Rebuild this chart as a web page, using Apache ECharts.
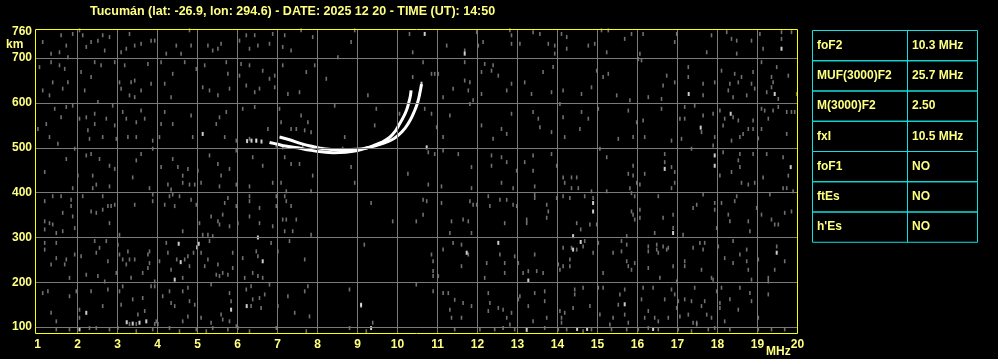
<!DOCTYPE html>
<html><head><meta charset="utf-8">
<script src="https://cdn.jsdelivr.net/npm/echarts@6/dist/echarts.min.js"></script>
<style>html,body{margin:0;padding:0;background:#000;}#c{width:998px;height:359px;}</style>
</head><body><div id="c"></div>
<script>
// ---- data ----
const titleText = 'Tucumán (lat: -26.9, lon: 294.6) - DATE: 2025 12 20 - TIME (UT): 14:50';
const freqTicks = [1,2,3,4,5,6,7,8,9,10,11,12,13,14,15,16,17,18,19,20];
const heightTicks = [100,200,300,400,500,600,700,760];
const gridFreqs = [2,3,4,5,6,7,8,9,10,11,12,13,14,15,16,17,18,19];
const gridHeights = [100,200,300,400,500,600,700];
const tableLabels = ['foF2','MUF(3000)F2','M(3000)F2','fxI','foF1','ftEs',"h'Es"];
const tableValues = ['10.3 MHz','25.7 MHz','2.50','10.5 MHz','NO','NO','NO'];

// O-mode trace [MHz, km]
const traceO = [[6.8,512],[7.0,508],[7.2,504],[7.5,500],[7.8,495],[8.1,491],[8.4,489],[8.7,490],[9.0,494],[9.2,499],[9.4,505],[9.6,512],[9.8,523],[9.95,538],[10.05,553],[10.15,569],[10.23,585],[10.28,600],[10.32,615],[10.34,628]];
// X-mode trace [MHz, km]
const traceX = [[7.05,524],[7.3,518],[7.57,510],[7.82,504],[8.15,498],[8.57,496],[9.0,497],[9.3,501],[9.6,509],[9.86,518],[10.03,529],[10.19,544],[10.32,562],[10.42,581],[10.5,600],[10.55,618],[10.6,642]];

// bright isolated echoes [MHz, km]
const echoWhite = [[6.24,515],[6.35,516],[6.47,516],[6.6,514],[10.68,754],[11.68,710],[19.60,721],[10.60,643],[10.56,620],[17.28,620],[19.43,620],[17.58,545],[18.33,576],[10.73,501],[16.68,453],[17.93,483],[17.93,460],[19.83,457],[5.13,531],[6.51,300],[4.53,286],[4.58,245],[4.43,206],[4.99,278],[5.03,286],[6.63,247],[2.22,132],[3.72,113],[5.84,139],[6.23,147],[9.09,150],[2.05,95],[9.34,98],[3.23,111],[3.38,108],[3.55,110],[14.89,377],[14.89,358],[14.39,303],[16.89,310],[11.73,266],[12.52,288],[13.27,204],[14.39,273],[14.58,290],[19.48,266],[15.68,151],[13.23,94],[14.49,96],[14.74,96],[16.39,96]];

// faint background echoes (noise) [MHz, km]
const echoGray = [
[1.13,736],[1.34,710],[1.55,713],[1.59,751],[1.72,728],[1.76,702],[1.88,754],[2.05,762],[2.13,751],[2.22,725],[2.34,736],[2.51,739],[2.63,751],[2.68,717],[2.80,747],[3.09,713],[3.22,721],[3.30,754],[3.43,728],[3.59,732],[3.84,739],[3.93,739],[4.22,710],[4.47,728],[4.59,710],[4.80,762],[4.84,728],[5.26,728],[5.38,717],[5.51,721],[5.59,732],[6.05,739],[6.22,751],[6.43,751],[6.30,721],[6.51,728],[6.80,732],[6.88,754],[7.18,751],[7.13,725],[7.34,717],[7.59,762],[7.88,747],[8.51,702],[8.84,736],[8.93,762],[10.30,754],[10.38,713],
[1.05,680],[1.34,691],[1.38,646],[1.55,684],[1.68,676],[1.76,646],[1.63,632],[1.13,628],[1.30,617],[2.09,669],[2.18,628],[2.34,658],[2.43,691],[2.59,684],[2.51,602],[2.93,691],[3.05,646],[3.09,632],[3.18,684],[3.34,646],[3.43,650],[3.30,617],[3.43,613],[3.59,628],[3.76,687],[3.84,643],[4.09,691],[4.18,643],[4.34,613],[4.38,665],[4.68,691],[4.97,676],[5.13,635],[5.18,684],[5.30,628],[5.51,617],[5.72,691],[5.76,665],[5.80,632],[6.05,661],[6.09,687],[6.22,639],[6.30,684],[6.43,624],[6.55,632],[6.63,672],[6.80,654],[6.93,661],[6.93,635],[7.13,684],[7.26,620],[7.55,624],[7.72,669],[7.93,684],[8.22,654],[9.26,617],[10.38,658],
[1.01,542],[1.22,553],[1.30,524],[1.43,587],[1.51,509],[1.59,568],[1.72,591],[1.88,594],[2.05,565],[2.22,568],[2.26,539],[2.30,520],[2.43,576],[2.43,553],[2.63,524],[2.72,565],[2.88,594],[2.93,550],[2.97,520],[3.13,580],[3.22,565],[3.26,524],[3.47,557],[3.47,524],[3.59,583],[3.68,565],[3.88,516],[4.05,524],[4.09,553],[4.18,580],[4.38,553],[4.84,572],[4.88,524],[5.47,553],[5.55,568],[5.68,524],[5.72,580],[5.97,516],[6.13,587],[6.43,591],[6.76,542],[7.05,587],[7.09,557],[7.34,542],[7.47,542],[7.59,572],[7.68,539],[7.76,557],[7.84,535],[8.43,594],[8.68,524],[9.43,550],[9.47,587],[10.05,576],
[6.30,520],[6.47,516],[6.97,505],[7.13,501],[7.63,505],[7.88,501],[8.13,498],[8.63,498],
[1.18,446],[1.72,475],[1.93,498],[2.01,438],[2.22,483],[2.34,486],[2.38,438],[2.55,475],[2.80,460],[2.93,453],[3.38,434],[3.47,472],[3.59,486],[3.88,498],[4.09,457],[4.38,475],[4.51,457],[4.63,438],[4.76,453],[5.01,449],[5.30,483],[5.51,464],[5.59,438],[5.80,453],[5.97,494],[6.38,479],[6.63,460],[7.18,479],[7.34,464],[7.55,464],[7.88,438],[8.84,457],[10.26,442],
[11.23,728],[11.68,717],[11.98,758],[12.14,736],[12.02,728],[12.81,762],[12.85,751],[12.85,732],[13.06,732],[13.39,758],[13.56,754],[13.77,732],[13.93,728],[13.93,710],[14.10,754],[14.23,747],[14.23,721],[14.77,728],[14.93,732],[15.10,762],[15.27,762],[15.23,713],[15.68,743],[15.85,754],[16.06,710],[16.14,754],[16.93,736],[16.98,754],[17.73,713],[17.85,751],[18.23,758],[18.35,743],[18.48,739],[18.48,710],[18.85,739],[19.06,754],[19.14,721],[19.60,758],[19.60,743],[19.85,758],
[10.64,691],[10.85,665],[10.93,665],[11.02,665],[11.14,613],[11.39,632],[11.68,650],[11.68,691],[11.77,628],[11.81,646],[11.89,606],[12.10,620],[12.10,669],[12.18,687],[12.35,672],[12.39,684],[12.52,661],[12.73,628],[12.85,643],[13.18,646],[13.35,620],[13.64,669],[13.85,624],[13.89,680],[14.14,628],[14.60,620],[14.85,635],[14.98,672],[15.14,658],[15.27,665],[15.48,617],[15.81,606],[16.02,698],[16.10,695],[16.27,613],[16.60,609],[16.64,639],[16.73,661],[16.93,646],[17.27,680],[17.27,658],[17.64,643],[17.64,617],[17.93,646],[18.10,672],[18.27,628],[18.31,643],[18.39,613],[18.43,665],[18.52,646],[18.60,658],[18.73,617],[18.85,643],[18.89,669],[18.93,632],[19.10,691],[19.23,624],[19.35,658],[19.35,635],[19.39,646],[19.52,609],[19.48,680],[19.77,661],[19.98,620],
[10.68,587],[10.85,576],[10.98,546],[11.14,524],[11.31,572],[11.81,598],[12.10,550],[12.39,520],[12.60,542],[12.73,531],[12.85,576],[13.39,580],[13.52,565],[13.56,546],[13.85,535],[14.06,598],[14.14,568],[14.18,524],[14.60,580],[14.56,542],[14.77,565],[15.02,587],[15.52,520],[15.77,583],[15.89,524],[15.98,557],[16.18,524],[16.14,561],[16.60,587],[16.85,516],[17.06,565],[17.10,520],[17.18,591],[17.18,565],[17.43,594],[17.60,535],[17.64,572],[17.89,576],[17.93,524],[18.06,583],[18.14,550],[18.18,565],[18.35,516],[18.39,568],[18.52,561],[18.56,524],[18.64,531],[18.77,542],[18.89,561],[18.89,542],[19.02,521],[19.10,587],[19.10,542],[19.18,583],[19.27,565],[19.39,583],[19.52,591],[19.73,580],[19.85,580],[19.93,580],[19.73,531],
[10.77,490],[10.93,486],[11.14,494],[11.52,486],[11.85,457],[12.35,483],[12.35,460],[12.60,479],[12.73,468],[12.98,449],[13.18,468],[13.39,483],[13.39,449],[13.85,486],[13.98,460],[14.14,434],[14.35,434],[14.48,434],[15.06,498],[15.23,479],[15.77,442],[15.89,460],[15.89,438],[16.18,442],[16.68,486],[16.68,468],[16.85,457],[16.93,446],[17.35,498],[17.89,505],[18.06,438],[18.14,490],[18.35,446],[18.52,472],[18.56,457],[18.56,486],[18.89,486],[19.14,434],[19.23,486],[19.64,479],[19.77,438],
[1.88,410],[2.38,410],[2.47,418],[2.80,414],[3.80,410],[4.26,418],[4.34,407],[4.63,422],[4.80,418],[4.93,418],[5.09,422],[5.55,414],[5.97,418],[6.30,414],[6.88,422],[7.09,422],[7.22,403],[7.84,403],[8.93,422],
[1.18,381],[1.38,392],[1.59,392],[1.63,355],[1.84,384],[1.84,370],[1.88,347],[1.18,336],[1.30,332],[1.38,329],[1.18,318],[1.47,310],[1.63,314],[1.93,321],[2.13,392],[2.34,358],[2.47,355],[2.63,392],[2.63,362],[2.76,370],[2.84,370],[2.93,373],[2.80,332],[3.05,306],[3.43,373],[3.88,396],[3.88,381],[4.18,373],[4.30,392],[4.38,396],[4.55,392],[4.43,370],[4.63,314],[4.84,384],[4.97,373],[5.05,332],[5.13,306],[5.26,306],[5.38,303],[5.34,347],[5.51,336],[5.55,329],[5.63,351],[5.76,388],[5.68,377],[5.80,325],[5.97,370],[6.01,332],[6.30,392],[6.30,381],[6.30,347],[6.55,366],[6.55,332],[6.88,325],[6.97,392],[6.97,370],[7.18,392],[7.22,381],[7.34,370],[7.13,340],[7.22,340],[7.47,340],[7.18,314],[7.38,314],[7.84,306],[9.34,377],[9.88,336],[10.47,336],
[1.18,288],[1.18,273],[1.47,288],[1.47,254],[1.34,240],[1.72,251],[1.68,240],[1.80,210],[1.93,262],[2.09,258],[2.22,217],[2.43,292],[2.47,266],[2.55,277],[2.51,214],[2.72,292],[2.76,247],[2.68,202],[2.97,221],[3.05,262],[3.01,284],[3.13,251],[3.22,240],[3.30,251],[3.26,269],[3.43,251],[3.34,210],[3.63,221],[3.76,232],[3.76,262],[3.80,269],[3.80,243],[3.93,202],[4.05,247],[4.22,288],[4.26,266],[4.34,228],[4.48,251],[4.63,210],[4.68,251],[4.80,236],[4.76,258],[4.90,266],[5.09,266],[5.18,236],[5.26,251],[5.30,292],[5.47,217],[5.51,240],[5.55,214],[5.63,221],[5.76,217],[5.88,232],[5.88,266],[6.13,254],[6.18,210],[6.38,221],[6.47,269],[6.51,258],[6.51,214],[6.63,210],[6.84,288],[7.01,269],[7.30,292],[7.68,251],[9.17,284],[10.47,195],
[1.13,176],[1.26,180],[1.34,132],[1.47,113],[1.80,169],[1.97,180],[2.05,139],[2.05,121],[2.34,180],[2.63,147],[2.76,184],[3.05,180],[3.13,191],[3.09,150],[3.38,162],[3.51,128],[3.63,165],[3.68,136],[3.84,191],[3.93,191],[3.97,113],[4.13,169],[4.30,180],[4.34,154],[4.43,147],[4.63,180],[4.63,113],[4.76,188],[4.80,158],[4.76,124],[4.93,150],[5.09,121],[5.34,195],[5.34,110],[5.59,128],[5.63,117],[5.80,176],[5.80,113],[5.84,158],[5.97,102],[6.22,184],[6.34,191],[6.38,162],[6.34,147],[6.55,165],[6.59,143],[6.68,173],[6.80,195],[7.01,147],[7.26,169],[7.43,132],[7.80,124],[7.76,191],[7.68,180],[8.80,184],[9.09,147],[9.38,110],
[1.47,95],[1.80,95],[2.30,98],[2.47,98],[2.80,95],[3.01,98],[3.47,91],[3.88,95],[4.30,98],[4.55,91],[4.97,95],[5.22,91],[5.38,98],[5.76,95],[6.01,98],[6.30,91],[6.97,98],[7.72,91],[8.80,98],[9.22,91],
[3.30,107],[3.47,107],[3.93,107],[4.01,107],
[10.77,418],[11.10,414],[11.85,410],[12.60,422],[12.89,410],[13.43,414],[14.18,422],[14.35,410],[14.52,410],[14.85,403],[15.23,403],[15.81,410],[15.85,399],[15.98,422],[16.06,418],[16.85,410],[16.93,422],[18.60,422],[18.77,418],[18.93,422],[19.64,410],[19.73,410],[19.89,403],
[10.64,384],[10.64,351],[10.73,381],[11.10,377],[11.35,336],[11.31,310],[11.64,340],[11.77,336],[11.81,381],[11.89,373],[11.98,373],[11.85,310],[12.27,392],[12.31,370],[12.56,384],[12.73,384],[12.68,332],[12.89,373],[12.98,370],[13.23,340],[13.23,332],[13.43,396],[13.43,388],[13.73,373],[13.77,358],[13.73,344],[13.98,388],[14.14,392],[14.31,388],[14.48,332],[14.68,392],[14.81,329],[14.89,388],[14.98,329],[14.58,318],[15.85,358],[15.89,351],[15.93,340],[15.93,392],[16.06,362],[16.06,344],[16.43,310],[16.52,392],[16.64,344],[16.89,351],[16.89,321],[17.14,306],[17.39,366],[17.48,373],[17.64,396],[17.93,377],[17.93,362],[17.98,321],[18.10,377],[18.27,351],[18.31,336],[18.43,381],[18.48,392],[18.77,336],[18.81,314],[18.98,366],[19.10,351],[19.31,396],[19.35,340],[19.43,329],[19.52,329],[19.68,355],[19.85,358],
[10.85,262],[10.89,247],[10.89,225],[10.89,214],[11.02,214],[11.14,273],[11.39,288],[11.60,284],[11.77,262],[11.60,236],[12.18,210],[12.23,243],[12.56,262],[12.68,221],[12.68,243],[12.93,258],[13.02,243],[13.14,221],[13.27,225],[13.43,262],[13.48,225],[13.64,221],[14.02,240],[14.06,228],[14.14,236],[14.14,277],[14.31,236],[14.31,251],[14.35,277],[14.48,273],[14.64,280],[14.68,292],[14.89,266],[15.02,288],[15.14,221],[15.39,266],[15.60,269],[15.60,292],[15.73,303],[15.73,284],[15.73,247],[15.77,236],[15.93,243],[15.85,228],[16.27,280],[16.27,269],[16.27,232],[16.48,284],[16.48,273],[16.52,266],[16.56,210],[16.64,280],[16.73,273],[16.77,277],[16.89,236],[16.98,202],[17.18,247],[17.18,236],[17.39,277],[17.56,288],[17.64,273],[17.68,288],[17.60,228],[17.85,210],[17.89,206],[18.02,280],[18.18,254],[18.39,292],[18.39,243],[18.56,262],[18.73,273],[18.73,247],[18.77,228],[18.85,206],[19.02,251],[19.27,210],[19.27,202],[19.48,280],[19.68,247],[19.43,228],
[10.89,180],[11.14,176],[11.27,176],[11.43,161],[11.64,154],[11.31,139],[11.35,121],[11.60,121],[11.85,147],[12.27,176],[12.31,154],[12.27,136],[12.52,143],[12.64,139],[12.73,121],[12.85,132],[12.81,106],[13.02,162],[13.06,169],[13.27,147],[13.39,113],[13.43,176],[13.68,158],[13.68,180],[13.73,121],[14.06,136],[14.10,121],[14.10,110],[14.18,132],[14.39,143],[14.43,184],[14.43,173],[14.64,188],[14.81,147],[15.02,188],[15.06,128],[15.14,188],[15.31,106],[15.39,121],[15.52,150],[15.56,173],[15.68,128],[15.68,184],[15.77,110],[16.14,188],[16.10,162],[16.18,121],[16.27,136],[16.39,188],[16.43,121],[16.52,113],[16.68,162],[16.77,121],[16.85,184],[16.93,173],[16.98,143],[17.02,158],[17.06,124],[17.18,162],[17.27,128],[17.35,158],[17.43,188],[17.48,110],[17.60,147],[17.68,158],[17.73,128],[17.85,121],[17.98,180],[18.06,154],[18.06,143],[18.10,188],[18.18,113],[18.31,162],[18.52,139],[18.56,188],[18.81,176],[18.85,158],[19.02,121],[19.27,173],
[11.43,95],[12.06,95],[12.43,95],[12.64,98],[12.93,95],[13.68,98],[14.02,95],[14.23,95],[14.64,91],[14.85,95],[15.35,95],[15.73,95],[16.02,95],[16.27,98],[16.52,95],[17.02,95],[17.35,91],[17.39,110],[17.48,106],[17.77,95],[17.93,98],[18.31,95],[19.02,95],[19.35,95],[19.68,95]
];

// ---- chart ----
const yellow = '#ffff80';
const font = 'Liberation Sans';
const chart = echarts.init(document.getElementById('c'), null, {renderer:'canvas'});
const g = [];
const tx0 = 812.5, tx1 = 907.5, tx2 = 977.5, ty0 = 30.5, rowH = 30.25;
tableLabels.forEach((lab, i) => {
  const y = ty0 + i * rowH;
  g.push({type:'rect', shape:{x:tx0, y:y, width:tx2 - tx0, height:rowH}, style:{fill:'none', stroke:'#10e0e0', lineWidth:1}, silent:true});
  g.push({type:'text', x:tx0 + 4.5, y:y + rowH/2, style:{text:lab, fill:yellow, font:'bold 12px ' + font, textVerticalAlign:'middle'}, silent:true});
  g.push({type:'text', x:tx1 + 4.5, y:y + rowH/2, style:{text:tableValues[i], fill:yellow, font:'bold 12px ' + font, textVerticalAlign:'middle'}, silent:true});
});
g.push({type:'line', shape:{x1:tx1, y1:ty0, x2:tx1, y2:ty0 + 7*rowH}, style:{stroke:'#10e0e0', lineWidth:1}, silent:true});
g.push({type:'text', x:6, y:45, style:{text:'km', fill:yellow, font:'bold 12px ' + font, textVerticalAlign:'middle'}, silent:true});
g.push({type:'text', x:766, y:352, style:{text:'MHz', fill:yellow, font:'bold 12px ' + font, textVerticalAlign:'middle'}, silent:true});
// plot frame
g.push({type:'rect', z:100, shape:{x:35.5, y:29.5, width:762, height:304}, style:{fill:'none', stroke:'#ffff00', lineWidth:1}, silent:true});

const gridMarks = gridFreqs.map(f => ({xAxis:f})).concat(gridHeights.map(h => ({yAxis:h})));

chart.setOption({
  backgroundColor:'#000',
  animation:false,
  title:{text:titleText, left:85, top:0, textStyle:{color:yellow, fontFamily:font, fontWeight:'bold', fontSize:12.5}},
  grid:{left:36, right:200, top:29, bottom:26, show:false},
  xAxis:{type:'value', min:0.9625, max:20.0125, axisLine:{show:false}, axisTick:{show:false}, splitLine:{show:false},
    axisLabel:{customValues:freqTicks, color:yellow, fontFamily:font, fontWeight:'bold', fontSize:12, margin:6}},
  yAxis:{type:'value', min:87, max:765, axisLine:{show:false}, axisTick:{show:false}, splitLine:{show:false},
    axisLabel:{customValues:heightTicks, color:yellow, fontFamily:font, fontWeight:'bold', fontSize:12, margin:4}},
  graphic:g,
  series:[
    {type:'line', data:[], silent:true, z:1,
      markLine:{silent:true, symbol:['none','none'], label:{show:false}, animation:false,
        lineStyle:{color:'#7a7a7a', width:1, type:'solid'}, emphasis:{disabled:true}, data:gridMarks}},
    {type:'scatter', data:echoGray, symbol:'rect', symbolSize:[1.6,4], itemStyle:{color:'#8c8c8c'}, silent:true, z:2},
    {type:'scatter', data:echoWhite, symbol:'rect', symbolSize:[2,4], itemStyle:{color:'#ffffff'}, silent:true, z:3},
    {type:'line', data:traceO, smooth:0.4, showSymbol:false, lineStyle:{color:'#ffffff', width:3}, silent:true, z:4},
    {type:'line', data:traceX, smooth:0.4, showSymbol:false, lineStyle:{color:'#ffffff', width:3}, silent:true, z:4}
  ]
});
</script></body></html>
